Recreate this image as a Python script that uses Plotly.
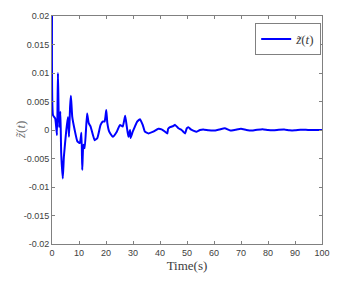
import plotly.graph_objects as go

time_s = [0, 0.37, 1.2, 1.85, 2.2, 2.6, 3.1, 3.4, 4.0, 4.4, 5.3, 5.9, 6.3, 6.7, 7.0, 7.5,
          8.4, 9.4, 10.3, 10.9, 11.2, 11.6, 12.1, 13.0, 13.6, 14.3, 15.8, 16.8, 18.0, 18.9,
          19.5, 20.1, 20.5, 21.2, 22.5, 24.0, 25.2, 26.2, 27.1, 27.7, 28.3, 28.9, 29.1, 29.9,
          30.7, 31.6, 32.6, 33.6, 34.4, 35.7, 37.5, 39.4, 40.6, 41.9, 42.7, 43.0, 43.7, 44.9,
          45.6, 46.8, 48.0, 49.3, 49.9, 50.5, 51.4, 52.3, 53.6, 54.8, 56.0, 58.0, 60.0, 62.0,
          64.0, 66.0, 68.0, 70.0, 72.0, 74.0, 76.0, 78.0, 80.0, 82.0, 84.0, 86.0, 88.0, 90.0,
          92.0, 94.0, 96.0, 98.0, 100.0]
z_milli = [20.0, 2.6, 2.0, -0.9, 10.0, 0.5, 3.2, -4.0, -8.5, -4.7, 0.0, 2.3, -1.2, 4.1, 6.0, 2.3,
           0.0, -2.0, -2.3, -0.5, -7.0, -2.6, -3.2, 2.9, 1.2, 0.6, -1.8, -1.4, 0.9, 1.5,
           1.5, 3.5, 1.2, -0.3, -1.2, -0.3, 0.9, 0.6, 2.5, 0.6, -1.2, 0.0, -1.4, -0.3,
           0.6, 1.5, 1.9, 0.9, -0.3, -0.6, -0.3, 0.2, 0.1, -0.3, -0.6, 0.2, 0.5, 0.7,
           0.9, 0.3, 0.0, -0.6, 0.3, 0.5, 0.1, -0.1, -0.3, 0.0, 0.1, -0.05, -0.1, 0.1,
           0.3, -0.1, 0.05, 0.2, 0.0, -0.1, 0.05, 0.15, 0.0, -0.05, 0.05, 0.1, -0.05, -0.05,
           0.05, 0.05, -0.02, 0.02, 0.0]
z_vals = [v / 1000 for v in z_milli]

y_ticks = [0.02, 0.015, 0.01, 0.005, 0, -0.005, -0.01, -0.015, -0.02]
y_tick_labels = ["0.02", "0.015", "0.01", "0.005", "0", "-0.005", "-0.01", "-0.015", "-0.02"]
x_ticks = [0, 10, 20, 30, 40, 50, 60, 70, 80, 90, 100]

fig = go.Figure()
fig.add_trace(go.Scatter(x=time_s, y=z_vals, mode="lines",
                         line=dict(color="#0000ff", width=2, shape="spline", smoothing=0.4),
                         name="<i>z̃</i>(<i>t</i>)"))

axis_common = dict(showline=True, linecolor="#808080", linewidth=1, mirror="ticks",
                   ticks="inside", ticklen=3, tickcolor="#808080", showgrid=False,
                   zeroline=False, automargin=False,
                   tickfont=dict(family="Liberation Sans, Arial", size=9, color="#404040"))

fig.update_layout(
    width=333, height=280,
    margin=dict(l=44, r=19, t=8, b=44),
    paper_bgcolor="white", plot_bgcolor="white",
    xaxis=dict(range=[0, 100], tickvals=x_ticks,
               title=dict(text="Time(s)", font=dict(family="Liberation Serif, serif", size=13, color="#404040"),
                          standoff=2),
               **axis_common),
    yaxis=dict(range=[-0.02, 0.02], tickvals=y_ticks, ticktext=y_tick_labels,
               **axis_common),
    showlegend=True,
    legend=dict(x=0.997, y=0.969, xanchor="right", yanchor="top",
                bordercolor="#808080", borderwidth=1, bgcolor="white",
                font=dict(family="Liberation Serif, serif", size=13, color="#404040"),
                itemwidth=30, tracegroupgap=0),
)
fig.add_annotation(text="<i>z̃</i>(<i>t</i>)", xref="paper", yref="paper",
                   x=-0.1185, y=0.5, xanchor="center", yanchor="middle",
                   textangle=-90, showarrow=False,
                   font=dict(family="Liberation Serif, serif", size=13, color="#707070"))

fig.write_html("out.html")
